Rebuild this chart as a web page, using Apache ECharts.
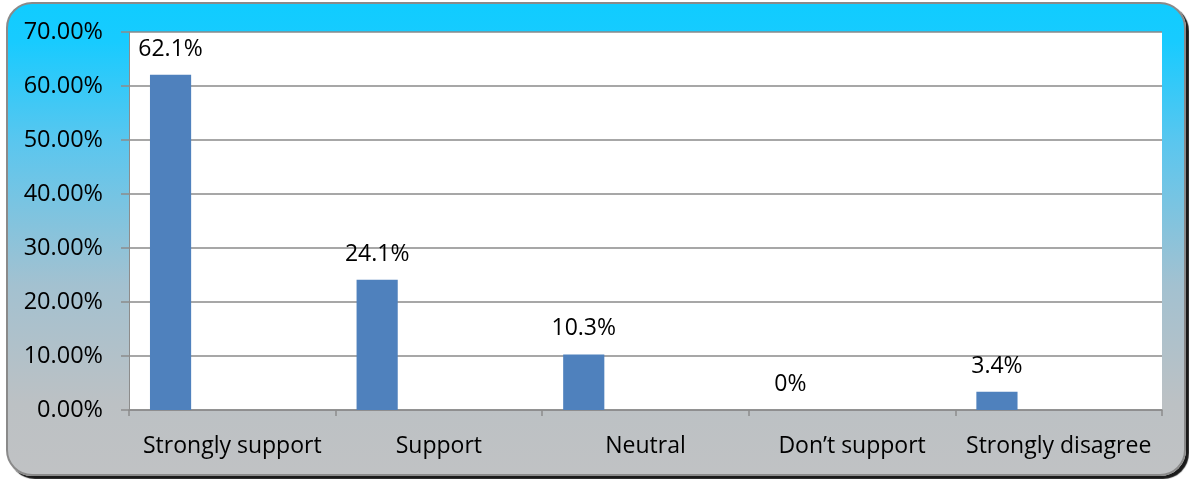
<!DOCTYPE html>
<html>
<head>
<meta charset="utf-8">
<script src="https://cdn.jsdelivr.net/npm/echarts@6/dist/echarts.min.js"></script>
<style>
  html, body { margin: 0; padding: 0; background: #ffffff; }
  #frame {
    position: absolute; left: 6px; top: 2px; width: 1176px; height: 470px;
    border: 2px solid #8a8a8a; border-radius: 26px;
    background: linear-gradient(to bottom, #10ccff 0%, #18cbff 8%, #5cc6ee 30%, #a3c1d0 60%, #bcc1c4 85%, #c0c2c4 100%);
    box-shadow: 3px 3px 1px #1a1a1a;
  }
  #chart { position: absolute; left: 0; top: 0; width: 1189px; height: 479px; }
</style>
</head>
<body>
<div id="frame"></div>
<div id="chart"></div>
<script>
// Survey responses: share of respondents per answer
const categories = ['Strongly support', 'Support', 'Neutral', 'Don\u2019t support', 'Strongly disagree'];
const shares = [62.1, 24.1, 10.3, 0, 3.4];
const yTicks = { min: 0, max: 70, step: 10 };

const FONT = '"Open Sans", Lato, sans-serif';
const chart = echarts.init(document.getElementById('chart'), null, { renderer: 'canvas' });

// The main series sits in the first of four slots per category, as in the
// original workbook layout; the other slots stay empty.
const emptySlot = { type: 'bar', data: [], barGap: '0%', barCategoryGap: '20.3%' };

chart.setOption({
  backgroundColor: 'transparent',
  animation: false,
  grid: {
    left: 129, right: 27, top: 32, bottom: 69,
    show: true, backgroundColor: '#ffffff', borderWidth: 0
  },
  xAxis: {
    type: 'category',
    data: categories,
    boundaryGap: true,
    axisLine: { lineStyle: { color: '#8c8c8c', width: 1.5 } },
    axisTick: { show: true, length: 6, lineStyle: { color: '#8c8c8c', width: 1.5 } },
    axisLabel: { color: '#000000', fontFamily: FONT, fontSize: 23, margin: 25, interval: 0 }
  },
  yAxis: {
    type: 'value',
    min: yTicks.min, max: yTicks.max, interval: yTicks.step,
    axisLine: { show: true, lineStyle: { color: '#8c8c8c', width: 1 } },
    axisTick: { show: true, length: 8, lineStyle: { color: '#8c8c8c', width: 1.5 } },
    axisLabel: {
      color: '#000000', fontFamily: FONT, fontSize: 23.5, margin: 26,
      formatter: v => v.toFixed(2) + '%'
    },
    splitLine: { show: true, lineStyle: { color: '#8a8a8a', width: 1.5 } }
  },
  series: [
    {
      type: 'bar',
      data: shares,
      barGap: '0%',
      barCategoryGap: '20.3%',
      itemStyle: { color: '#4f81bd' },
      label: {
        show: true, position: 'top', distance: 14,
        color: '#000000', fontFamily: FONT, fontSize: 23,
        formatter: p => p.value + '%'
      }
    },
    emptySlot, emptySlot, emptySlot
  ]
});
</script>
</body>
</html>
